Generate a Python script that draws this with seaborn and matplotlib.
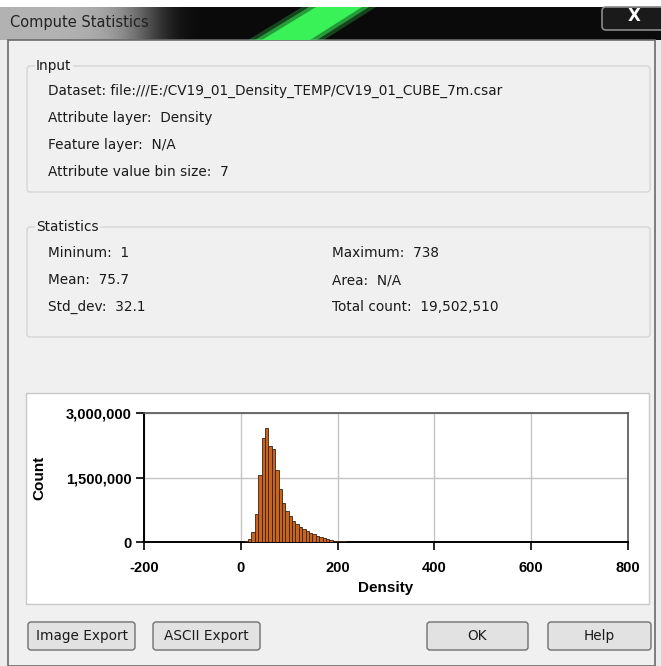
import numpy as np
import pandas as pd
import matplotlib
matplotlib.use("Agg")
import matplotlib.pyplot as plt
from matplotlib.patches import Rectangle, FancyBboxPatch, Polygon
from matplotlib.ticker import FuncFormatter
import seaborn as sns

# ---------------- data ----------------
bin_size = 7
bin_start = 1
counts = [
    10000, 25000, 80000, 240000, 645000, 1550000, 2430000, 2640000, 2240000, 2160000,
    1670000, 1230000, 900000, 723000, 606000, 490000, 412000, 350000, 311000, 256000,
    218000, 179000, 140000, 109000, 85000, 62000, 47000, 31000, 23000, 18000,
    14000, 11000, 9000, 7000, 5500, 4500, 3500, 2800, 2200, 1800,
    1400, 1100, 900, 700, 550, 450, 350, 280, 220, 180,
    150, 120, 100, 80, 65, 55, 45, 38, 32, 27,
    23, 20, 17, 15, 13, 11, 10, 9, 8, 7,
    6, 6, 5, 5, 4, 4, 3, 3, 3, 3,
    2, 2, 2, 2, 2, 2, 1, 1, 1, 1,
    1, 1, 1, 1, 1, 1, 1, 1, 1, 1,
    1, 1, 1, 1, 1, 1,
]
x_ticks = [-200, 0, 200, 400, 600, 800]
y_ticks = [0, 1500000, 3000000]

input_lines = [
    "Dataset: file:///E:/CV19_01_Density_TEMP/CV19_01_CUBE_7m.csar",
    "Attribute layer:  Density",
    "Feature layer:  N/A",
    "Attribute value bin size:  7",
]
stats_left = ["Mininum:  1", "Mean:  75.7", "Std_dev:  32.1"]
stats_right = ["Maximum:  738", "Area:  N/A", "Total count:  19,502,510"]
buttons = ["Image Export", "ASCII Export", "OK", "Help"]

edges = bin_start + bin_size * np.arange(len(counts) + 1)
centers = (edges[:-1] + edges[1:]) / 2
df = pd.DataFrame({"Density": centers, "Count": counts})

# ---------------- figure ----------------
W, H = 661, 666
plt.rcParams['font.family'] = ['Liberation Sans', 'DejaVu Sans']
plt.rcParams['axes.unicode_minus'] = False
fig = plt.figure(figsize=(W / 100, H / 100), dpi=100)
ui_font = ['DejaVu Sans']
ui_size = 9.8

bg = fig.add_axes([0, 0, 1, 1])
bg.set_xlim(0, W)
bg.set_ylim(H, 0)
bg.axis("off")

# window background
bg.add_patch(Rectangle((0, 0), W, H, facecolor="#ececec", edgecolor="none", zorder=0))
bg.add_patch(Rectangle((0, 0), W, 7, facecolor="white", edgecolor="none", zorder=1))
# title bar gradient (grey glow at left -> black)
grad = np.linspace(0, 1, 661)
tb = np.exp(-(grad / 0.23) ** 6)
tb_img = np.zeros((1, 661, 3))
for i in range(3):
    tb_img[0, :, i] = 0.04 + 0.66 * tb
bg.imshow(tb_img, extent=(0, W, 40, 7), aspect="auto", zorder=1, interpolation="bilinear")
# green streak (soft edges)
for off, a in [(-14, 0.25), (-7, 0.5), (0, 1.0)]:
    bg.add_patch(Polygon([[262 + off, 40], [310 - off, 40], [362 - off, 7], [316 + off, 7]],
                         closed=True, facecolor="#38f257", edgecolor="none",
                         zorder=2, alpha=a))
bg.text(10, 23, "Compute Statistics", fontsize=10.5, color="#222222",
        va="center", ha="left", family=ui_font, zorder=3)
# close button
bg.add_patch(FancyBboxPatch((602, 7), 62, 23, boxstyle="round,pad=0,rounding_size=4",
                            facecolor="#1a1a1a", edgecolor="#8a8a8a", linewidth=1.2, zorder=3))
bg.text(634, 16, "X", fontsize=12, color="white", fontweight="bold",
        ha="center", va="center", family=ui_font, zorder=4)

# dialog body
bg.add_patch(Rectangle((8, 40), W - 14, H - 40, facecolor="#f0f0f0",
                       edgecolor="#6a6a6a", linewidth=1.2, zorder=1))

# group boxes
def group_box(x, y, w, h, label):
    bg.add_patch(FancyBboxPatch((x, y), w, h, boxstyle="round,pad=0,rounding_size=3",
                                facecolor="none", edgecolor="#d6d6d6", linewidth=1, zorder=2))
    bg.text(x + 9, y, label, fontsize=ui_size, color="#1a1a1a", va="center", ha="left",
            family=ui_font, zorder=3,
            bbox=dict(facecolor="#f0f0f0", edgecolor="none", pad=1))

group_box(27, 66, 623, 126, "Input")
for i, line in enumerate(input_lines):
    bg.text(48, 91 + i * 27, line, fontsize=ui_size, color="#1a1a1a", va="center",
            ha="left", family=ui_font, zorder=3)

group_box(27, 227, 623, 110, "Statistics")
for i, (l, r) in enumerate(zip(stats_left, stats_right)):
    bg.text(48, 253 + i * 27, l, fontsize=ui_size, color="#1a1a1a", va="center",
            ha="left", family=ui_font, zorder=3)
    bg.text(332, 253 + i * 27, r, fontsize=ui_size, color="#1a1a1a", va="center",
            ha="left", family=ui_font, zorder=3)

# chart panel
bg.add_patch(Rectangle((26, 393), 623, 211, facecolor="white", edgecolor="#c8c8c8",
                       linewidth=1, zorder=2))

# buttons
btn_boxes = [(28, 622, 107, 28), (153, 622, 107, 28), (427, 622, 101, 28), (548, 622, 103, 28)]
for (x, y, w, h), label in zip(btn_boxes, buttons):
    bg.add_patch(FancyBboxPatch((x, y), w, h, boxstyle="round,pad=0,rounding_size=3",
                                facecolor="#e2e2e2", edgecolor="#707070", linewidth=1, zorder=2))
    bg.text(x + w / 2, y + h / 2, label, fontsize=ui_size, color="#1a1a1a", va="center",
            ha="center", family=ui_font, zorder=3)

# ---------------- histogram ----------------
ax_l, ax_r, ax_t, ax_b = 144, 628, 413, 542
ax = fig.add_axes([ax_l / W, 1 - ax_b / H, (ax_r - ax_l) / W, (ax_b - ax_t) / H])
ax.set_facecolor("white")
sns.histplot(data=df, x="Density", weights="Count", binwidth=bin_size,
             binrange=(float(edges[0]), float(edges[-1])), ax=ax,
             color="#c8641e", edgecolor="#3a2210", linewidth=0.6, alpha=1.0, zorder=3)
ax.set_xlim(-200, 800)
ax.set_ylim(0, 3000000)
ax.set_xticks(x_ticks)
ax.set_yticks(y_ticks)
ax.yaxis.set_major_formatter(FuncFormatter(lambda v, p: f"{int(v):,}"))
ax.grid(True, color="#c4c4c4", linewidth=1, zorder=0)
ax.set_axisbelow(True)
for s in ["top", "right"]:
    ax.spines[s].set_color("#555555")
    ax.spines[s].set_linewidth(1.2)
for s in ["left", "bottom"]:
    ax.spines[s].set_color("black")
    ax.spines[s].set_linewidth(1.4)
ax.tick_params(axis="x", direction="out", length=6, width=1.2, color="black",
               labelsize=10.5, pad=8)
ax.tick_params(axis="y", direction="out", length=6, width=1.2, color="black",
               labelsize=10.5, pad=3)
for lab in ax.get_xticklabels() + ax.get_yticklabels():
    lab.set_fontweight("bold")
ax.set_xlabel("Density", fontsize=11, fontweight="bold", labelpad=4)
ax.set_ylabel("Count", fontsize=11, fontweight="bold", labelpad=14)

fig.savefig("out.png", dpi=100)
